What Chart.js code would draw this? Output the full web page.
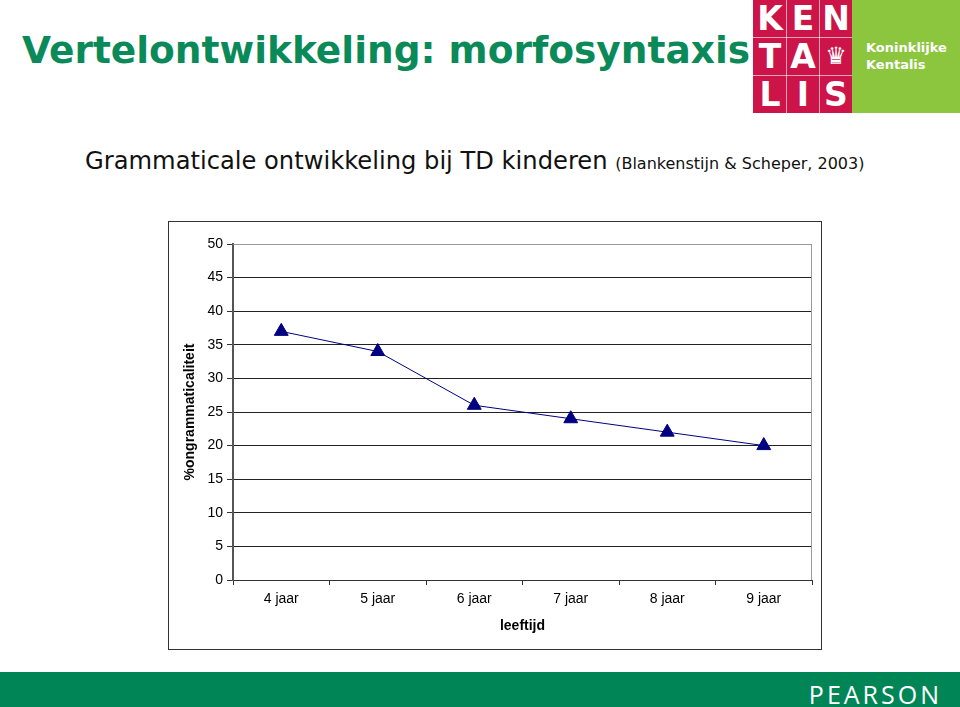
<!DOCTYPE html>
<html>
<head>
<meta charset="utf-8">
<script src="https://cdn.jsdelivr.net/npm/chart.js@4"></script>
<style>
  body { margin: 0; width: 960px; height: 707px; position: relative; background: #fff; overflow: hidden; font-family: "DejaVu Sans", Verdana, sans-serif; }
  .title { position: absolute; left: 22px; top: 28px; font-size: 37.5px; font-weight: bold; color: #0a8a58; white-space: nowrap; }
  .subtitle { position: absolute; left: 85px; top: 147px; font-size: 24.2px; color: #111; white-space: nowrap; }
  .subtitle small { font-size: 16px; }
  .logo-red { position: absolute; left: 753px; top: 0; width: 99px; height: 113px; background: #cc1449; }
  .logo-red div { position: absolute; width: 32px; height: 37px; color: #fff; font-size: 33px; font-weight: bold; text-align: center; line-height: 37px; }
  .logo-red i { position: absolute; background: rgba(255,255,255,0.6); }
  .logo-green { position: absolute; left: 852px; top: 0; width: 108px; height: 113px; background: #8cc63e; color: #fff; font-weight: bold; font-size: 13px; line-height: 17px; }
  .logo-green span { position: absolute; left: 14px; top: 39px; }
  .box { position: absolute; left: 168px; top: 221px; width: 652px; height: 427px; border: 1px solid #333; }
  .footer { position: absolute; left: 0; top: 672px; width: 960px; height: 35px; background: #008656; }
  .footer span { position: absolute; right: 18px; top: 5px; color: #fff; font-size: 25px; letter-spacing: 3px; font-family: "Open Sans", sans-serif; }
</style>
</head>
<body>
<div class="title">Vertelontwikkeling: morfosyntaxis</div>
<div class="subtitle">Grammaticale ontwikkeling bij TD kinderen <small>(Blankenstijn &amp; Scheper, 2003)</small></div>

<div class="logo-red">
  <i style="left:33px;top:0;width:1px;height:113px"></i><i style="left:66px;top:0;width:1px;height:113px"></i>
  <i style="left:0;top:37px;width:99px;height:1px"></i><i style="left:0;top:75px;width:99px;height:1px"></i>
  <div style="left:1px;top:0">K</div><div style="left:34px;top:0">E</div><div style="left:67px;top:0">N</div>
  <div style="left:1px;top:38px">T</div><div style="left:34px;top:38px">A</div><div style="left:67px;top:38px;font-size:24px;font-weight:normal">♛</div>
  <div style="left:1px;top:76px">L</div><div style="left:34px;top:76px">I</div><div style="left:67px;top:76px">S</div>
</div>
<div class="logo-green"><span>Koninklijke<br>Kentalis</span></div>

<div class="box"><canvas id="chart" width="652" height="427"></canvas></div>

<div class="footer"><span>PEARSON</span></div>

<script>
const categories = ['4 jaar', '5 jaar', '6 jaar', '7 jaar', '8 jaar', '9 jaar'];
const ungrammatical = [37, 34, 26, 24, 22, 20];
const yTicks = [0, 5, 10, 15, 20, 25, 30, 35, 40, 45, 50];

const plotBorder = {
    id: 'plotBorder',
    beforeDatasetsDraw(chart) {
        const { ctx, chartArea: a } = chart;
        ctx.save();
        ctx.strokeStyle = '#999';
        ctx.lineWidth = 1;
        ctx.beginPath();
        ctx.moveTo(a.left, a.top + 0.5);
        ctx.lineTo(a.right - 0.5, a.top + 0.5);
        ctx.lineTo(a.right - 0.5, a.bottom);
        ctx.stroke();
        ctx.restore();
    }
};

const labelFont = { family: 'Liberation Sans, Arial', size: 14 };

new Chart(document.getElementById('chart'), {
    type: 'line',
    data: {
        labels: categories,
        datasets: [{
            data: ungrammatical,
            borderColor: '#000080',
            backgroundColor: '#000080',
            borderWidth: 1,
            pointStyle: 'triangle',
            pointRadius: 8,
            pointBorderWidth: 1,
            tension: 0
        }]
    },
    options: {
        responsive: false,
        animation: false,
        layout: { padding: { top: 22, right: 9, left: 0, bottom: 0 } },
        plugins: { legend: { display: false }, tooltip: { enabled: false } },
        scales: {
            x: {
                offset: true,
                afterFit(scale) { scale.height = 69; },
                grid: { offset: true, drawOnChartArea: false, drawTicks: true, tickLength: 5, color: '#333' },
                border: { color: '#333', width: 1 },
                ticks: { color: '#000', padding: 6, font: labelFont },
                title: { display: true, text: 'leeftijd', color: '#000', padding: { bottom: 14 }, font: { ...labelFont, weight: 'bold' } }
            },
            y: {
                min: 0,
                max: 50,
                afterFit(scale) { scale.width = 64; },
                afterBuildTicks(scale) { scale.ticks = yTicks.map(v => ({ value: v })); },
                grid: {
                    color: ctx => ctx.tick && ctx.tick.value === 50 ? '#999' : '#222',
                    tickColor: '#333',
                    tickLength: 6
                },
                border: { color: '#555', width: 2 },
                ticks: { color: '#000', padding: 4, font: labelFont },
                title: { display: true, text: '%ongrammaticaliteit', color: '#000', padding: { top: 13 }, font: { ...labelFont, weight: 'bold' } }
            }
        }
    },
    plugins: [plotBorder]
});
</script>
</body>
</html>
